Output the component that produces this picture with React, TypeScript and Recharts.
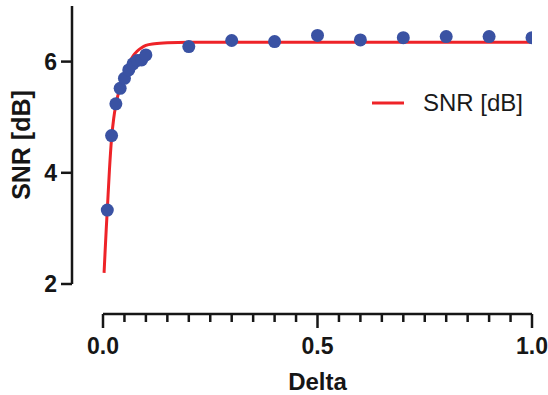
import React from "react";
import {
  ComposedChart,
  Line,
  Scatter,
  XAxis,
  YAxis,
  ReferenceLine,
  Legend,
} from "recharts";

// Measured data points (Delta vs SNR [dB])
const deltaValues = [0.01, 0.02, 0.03, 0.04, 0.05, 0.06, 0.07, 0.08, 0.09, 0.1, 0.2, 0.3, 0.4, 0.5, 0.6, 0.7, 0.8, 0.9, 1.0];
const snrValues = [3.33, 4.67, 5.24, 5.52, 5.70, 5.85, 5.96, 6.02, 6.03, 6.12, 6.27, 6.38, 6.36, 6.47, 6.39, 6.43, 6.45, 6.45, 6.43];

// Fitted curve
const fitDelta = [0.0025, 0.005, 0.0075, 0.01, 0.015, 0.02, 0.025, 0.03, 0.04, 0.05, 0.06, 0.07, 0.08, 0.09, 0.1, 0.12, 0.15, 0.2, 0.3, 0.5, 0.7, 1.0];
const fitSnr = [2.2, 2.6, 2.98, 3.33, 4.05, 4.62, 4.98, 5.22, 5.55, 5.78, 5.96, 6.1, 6.19, 6.25, 6.29, 6.32, 6.34, 6.35, 6.35, 6.35, 6.35, 6.35];

// Axis ticks
const xTickValues = [0, 0.05, 0.1, 0.15, 0.2, 0.25, 0.3, 0.35, 0.4, 0.45, 0.5, 0.55, 0.6, 0.65, 0.7, 0.75, 0.8, 0.85, 0.9, 0.95, 1.0];
const xMajorTicks = [0, 0.5, 1.0];
const xMajorLabels = ["0.0", "0.5", "1.0"];
const yTickValues = [2, 4, 6];
const yTickLabels = ["2", "4", "6"];

const seriesName = "SNR [dB]";
const xTitle = "Delta";
const yTitle = "SNR [dB]";

// Axis ranges (the y axis is drawn offset to the left of the x origin)
const xMin = -31 / 429;
const xMax = 1;
const yMin = 1.4604;
const yMax = 7;

const FONT = '"Liberation Sans", Arial, Helvetica, sans-serif';
const AXIS = "#161616";
const RED = "#ee2328";
const BLUE = "#3a52a3";

const pointData = deltaValues.map((x, i) => ({ x, y: snrValues[i] }));
const fitData = fitDelta.map((x, i) => ({ x, y: fitSnr[i] }));

const XTick = (props: any) => {
  const { x, y, payload } = props;
  const idx = xMajorTicks.indexOf(payload.value);
  const major = idx >= 0;
  return (
    <g>
      <line x1={x} x2={x} y1={y} y2={y + (major ? 14 : 8)} stroke={AXIS} strokeWidth={2.5} />
      {major && (
        <text x={x} y={y + 40} textAnchor="middle" fontFamily={FONT} fontWeight="bold" fontSize={23} fill={AXIS}>
          {xMajorLabels[idx]}
        </text>
      )}
    </g>
  );
};

const YTick = (props: any) => {
  const { x, y, payload } = props;
  const idx = yTickValues.indexOf(payload.value);
  return (
    <g>
      <line x1={x - 11} x2={x} y1={y} y2={y} stroke={AXIS} strokeWidth={2.5} />
      <text x={x - 15} y={y + 8} textAnchor="end" fontFamily={FONT} fontWeight="bold" fontSize={23} fill={AXIS}>
        {idx >= 0 ? yTickLabels[idx] : ""}
      </text>
    </g>
  );
};

const XTitle = (props: any) => (
  <text x={317.5} y={390} textAnchor="middle" fontFamily={FONT} fontWeight="bold" fontSize={24} fill={AXIS}>
    {xTitle}
  </text>
);

const YTitle = (props: any) => (
  <text
    x={30}
    y={145}
    transform="rotate(-90, 30, 145)"
    textAnchor="middle"
    fontFamily={FONT}
    fontWeight="bold"
    fontSize={25}
    fill={AXIS}
  >
    {yTitle}
  </text>
);

const LegendContent = () => (
  <div style={{ display: "flex", alignItems: "center", fontFamily: FONT }}>
    <svg width={32} height={4} style={{ display: "block" }}>
      <line x1={0} x2={32} y1={2} y2={2} stroke={RED} strokeWidth={3} />
    </svg>
    <span style={{ marginLeft: 19, fontSize: 24, lineHeight: "24px", color: "#1a1a1a" }}>{seriesName}</span>
  </div>
);

export default function App() {
  return (
    <div>
      <style>{"body{margin:0}"}</style>
      <ComposedChart width={548} height={395} margin={{ top: 6, right: 16, bottom: 0, left: 0 }}>
        <XAxis
          type="number"
          dataKey="x"
          domain={[xMin, xMax]}
          allowDataOverflow
          ticks={xTickValues}
          interval={0}
          axisLine={false}
          tickLine={false}
          tickSize={0}
          tickMargin={0}
          height={81}
          tick={<XTick />}
          label={<XTitle />}
        />
        <YAxis
          type="number"
          dataKey="y"
          domain={[yMin, yMax]}
          allowDataOverflow
          ticks={yTickValues}
          interval={0}
          axisLine={false}
          tickLine={false}
          tickSize={0}
          tickMargin={0}
          width={72}
          tick={<YTick />}
          label={<YTitle />}
        />
        <ReferenceLine
          segment={[{ x: 0, y: yMin }, { x: 1, y: yMin }]}
          stroke={AXIS}
          strokeWidth={2.5}
          ifOverflow="visible"
        />
        <ReferenceLine
          segment={[{ x: xMin, y: 2 }, { x: xMin, y: yMax }]}
          stroke={AXIS}
          strokeWidth={2.5}
          ifOverflow="visible"
        />
        <Legend
          layout="vertical"
          align="center"
          verticalAlign="middle"
          content={<LegendContent />}
          wrapperStyle={{ top: 91, left: 372, width: "auto", height: "auto" }}
        />
        <Line
          data={fitData}
          dataKey="y"
          name={seriesName}
          type="monotone"
          stroke={RED}
          strokeWidth={3}
          dot={false}
          activeDot={false}
          isAnimationActive={false}
          legendType="line"
        />
        <Scatter
          data={pointData}
          dataKey="y"
          name="points"
          fill={BLUE}
          legendType="none"
          isAnimationActive={false}
          shape={(p: any) => <circle cx={p.cx} cy={p.cy} r={6.5} fill={BLUE} />}
        />
      </ComposedChart>
    </div>
  );
}
